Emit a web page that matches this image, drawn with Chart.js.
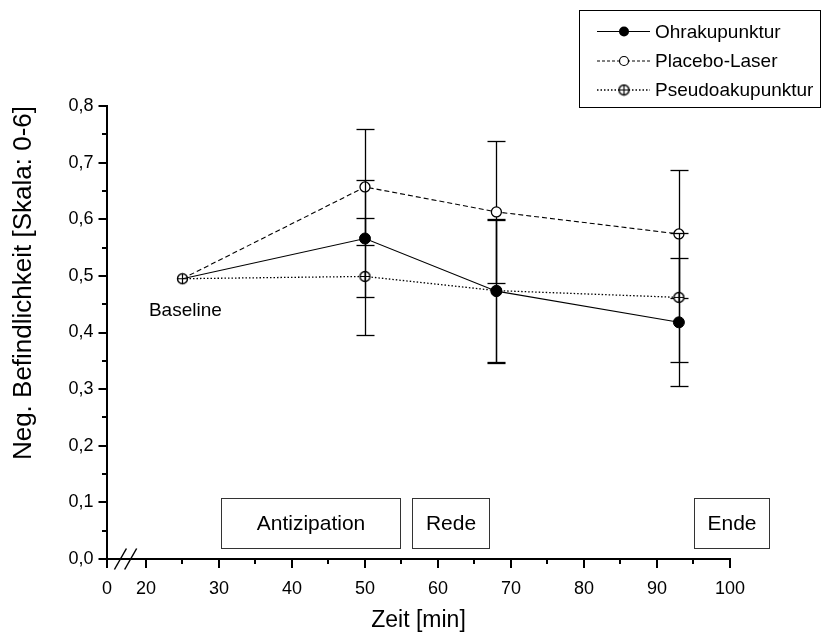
<!DOCTYPE html>
<html><head><meta charset="utf-8">
<script src="https://cdn.jsdelivr.net/npm/chart.js@4.4.1/dist/chart.umd.min.js"></script>
<style>html,body{margin:0;padding:0;background:#fff}canvas{display:block}</style>
</head><body>
<canvas id="c" width="823" height="640"></canvas>
<script>
// ---- data ----
const timePoints = [25, 50, 68, 93];
const seriesNames = ['Ohrakupunktur', 'Placebo-Laser', 'Pseudoakupunktur'];
const ohraMean = [0.495, 0.566, 0.473, 0.418];
const ohraErr = [0, 0.103, 0.126, 0.113];
const placeboMean = [0.495, 0.657, 0.613, 0.574];
const placeboErr = [0, 0.103, 0.126, 0.113];
const pseudoMean = [0.495, 0.499, 0.474, 0.462];
const pseudoErr = [0, 0.103, 0.126, 0.114];
const yTickValues = [0, 0.1, 0.2, 0.3, 0.4, 0.5, 0.6, 0.7, 0.8];
const yTickLabels = ['0,0', '0,1', '0,2', '0,3', '0,4', '0,5', '0,6', '0,7', '0,8'];
const yMinorTicks = [0.05, 0.15, 0.25, 0.35, 0.45, 0.55, 0.65, 0.75];
const xBreakZero = 14.66; // axis position that carries the "0" label (broken axis)
const xTickValues = [xBreakZero, 20, 30, 40, 50, 60, 70, 80, 90, 100];
const xTickLabels = ['0', '20', '30', '40', '50', '60', '70', '80', '90', '100'];
const xMinorTicks = [25, 35, 45, 55, 65, 75, 85, 95];
const phaseLabels = ['Antizipation', 'Rede', 'Ende'];
const phaseStart = [30.3, 56.5, 95.1];
const phaseEnd = [54.8, 67.0, 105.4];
const baselineLabel = 'Baseline';
const xTitle = 'Zeit [min]';
const yTitle = 'Neg. Befindlichkeit [Skala: 0-6]';

const FONT = '"Liberation Sans", Arial, Helvetica, sans-serif';
Chart.defaults.font.family = FONT;
Chart.defaults.color = '#000';

function makeCrossCircle(r) {
  const s = 2 * r + 3;
  const c = document.createElement('canvas');
  c.width = s; c.height = s;
  const g = c.getContext('2d');
  const m = s / 2;
  g.fillStyle = '#fff'; g.strokeStyle = '#000'; g.lineWidth = 1.4;
  g.beginPath(); g.arc(m, m, r, 0, Math.PI * 2); g.fill(); g.stroke();
  g.lineWidth = 1.2;
  g.beginPath(); g.moveTo(m - r, m); g.lineTo(m + r, m); g.moveTo(m, m - r); g.lineTo(m, m + r); g.stroke();
  return c;
}
const crossCircle = makeCrossCircle(5);

const means = [ohraMean, placeboMean, pseudoMean];
const errs = [ohraErr, placeboErr, pseudoErr];
const toPts = arr => timePoints.map((x, i) => ({x: x, y: arr[i]}));
const hideFirst = r => (ctx => ctx.dataIndex === 0 ? 0 : r);

const datasets = [
  {label: seriesNames[0], data: toPts(ohraMean), order: 0, borderColor: '#000', borderWidth: 1.1,
   pointStyle: 'circle', pointRadius: hideFirst(5.5), pointBackgroundColor: '#000', pointBorderColor: '#000',
   pointBorderWidth: 1, tension: 0, fill: false},
  {label: seriesNames[1], data: toPts(placeboMean), order: 2, borderColor: '#000', borderWidth: 1.1, borderDash: [5, 3],
   pointStyle: 'circle', pointRadius: hideFirst(5), pointBackgroundColor: '#fff', pointBorderColor: '#000',
   pointBorderWidth: 1.3, tension: 0, fill: false},
  {label: seriesNames[2], data: toPts(pseudoMean), order: 1, borderColor: '#000', borderWidth: 1.3, borderDash: [1.5, 2],
   pointStyle: crossCircle, pointRadius: 5, tension: 0, fill: false}
];

function line(ctx, x1, y1, x2, y2) { ctx.beginPath(); ctx.moveTo(x1, y1); ctx.lineTo(x2, y2); ctx.stroke(); }

const decor = {
  id: 'decor',
  beforeDatasetDraw(chart, args) {
    const i = args.index, xs = chart.scales.x, ys = chart.scales.y, ctx = chart.ctx;
    ctx.save();
    ctx.strokeStyle = '#000'; ctx.lineWidth = 1.3; ctx.setLineDash([]);
    means[i].forEach((m, k) => {
      const e = errs[i][k];
      if (!e) return;
      const px = Math.round(xs.getPixelForValue(timePoints[k])) + 0.5;
      const yt = Math.round(ys.getPixelForValue(m + e)) + 0.5;
      const yb = Math.round(ys.getPixelForValue(m - e)) + 0.5;
      line(ctx, px, yt, px, yb);
      line(ctx, px - 9, yt, px + 9, yt);
      line(ctx, px - 9, yb, px + 9, yb);
    });
    ctx.restore();
  },
  afterDraw(chart) {
    const ctx = chart.ctx, xs = chart.scales.x, ys = chart.scales.y;
    const {left: L, right: R, top: T, bottom: B} = chart.chartArea;
    ctx.save();
    ctx.strokeStyle = '#000'; ctx.setLineDash([]);
    // axes
    ctx.lineWidth = 2;
    line(ctx, L, T - 1, L, B + 1);
    line(ctx, L - 1, B, R + 1, B);
    // y ticks
    yTickValues.forEach(v => { const y = Math.round(ys.getPixelForValue(v)); line(ctx, L - 8.5, y, L, y); });
    yMinorTicks.forEach(v => { const y = Math.round(ys.getPixelForValue(v)); line(ctx, L - 5, y, L, y); });
    // x ticks
    xTickValues.forEach(v => { const x = Math.round(xs.getPixelForValue(v)); line(ctx, x, B, x, B + 9); });
    xMinorTicks.forEach(v => { const x = Math.round(xs.getPixelForValue(v)); line(ctx, x, B, x, B + 5); });
    // axis break marks
    ctx.lineWidth = 1.5;
    [16.5, 17.9].forEach(v => { const x = xs.getPixelForValue(v); line(ctx, x - 6, B + 10.5, x + 6, B - 10.5); });
    // phase boxes
    ctx.lineWidth = 1; ctx.strokeStyle = '#333';
    ctx.font = '21px ' + FONT; ctx.fillStyle = '#000';
    ctx.textAlign = 'center'; ctx.textBaseline = 'middle';
    const yTop = Math.round(ys.getPixelForValue(0.108)) + 0.5;
    const yBot = Math.round(ys.getPixelForValue(0.019)) + 0.5;
    phaseLabels.forEach((lab, i) => {
      const x1 = Math.round(xs.getPixelForValue(phaseStart[i])) + 0.5;
      const x2 = Math.round(xs.getPixelForValue(phaseEnd[i])) + 0.5;
      ctx.strokeRect(x1, yTop, x2 - x1, yBot - yTop);
      ctx.fillText(lab, (x1 + x2) / 2, (yTop + yBot) / 2 + 1);
    });
    // Baseline label
    ctx.font = '19px ' + FONT; ctx.textAlign = 'left';
    ctx.fillText(baselineLabel, xs.getPixelForValue(20.4), ys.getPixelForValue(0.438));
    // legend
    ctx.strokeStyle = '#000'; ctx.lineWidth = 1;
    ctx.strokeRect(579.5, 10.5, 241, 97);
    const rows = [31.5, 61, 90];
    const dashes = [[], [3, 2], [1.5, 2]];
    rows.forEach((ry, i) => {
      ctx.setLineDash(dashes[i]); ctx.lineWidth = i === 2 ? 1.3 : 1;
      line(ctx, 597, ry, 650, ry);
      ctx.setLineDash([]);
      if (i === 0) { ctx.fillStyle = '#000'; ctx.beginPath(); ctx.arc(624, ry, 5, 0, Math.PI * 2); ctx.fill(); }
      else if (i === 1) { ctx.fillStyle = '#fff'; ctx.lineWidth = 1.2; ctx.beginPath(); ctx.arc(624, ry, 4.5, 0, Math.PI * 2); ctx.fill(); ctx.stroke(); }
      else { ctx.drawImage(crossCircle, 624 - crossCircle.width / 2, ry - crossCircle.height / 2); }
      ctx.fillStyle = '#000'; ctx.font = '19px ' + FONT; ctx.textAlign = 'left'; ctx.textBaseline = 'middle';
      ctx.fillText(seriesNames[i], 655, ry + 1);
    });
    ctx.restore();
  }
};

new Chart(document.getElementById('c'), {
  type: 'line',
  data: {datasets: datasets},
  options: {
    responsive: false, animation: false,
    layout: {padding: {left: 0, top: 106, right: 93, bottom: 0}},
    plugins: {legend: {display: false}, tooltip: {enabled: false}},
    scales: {
      x: {
        type: 'linear', min: xBreakZero, max: 100,
        afterBuildTicks: s => { s.ticks = xTickValues.map(v => ({value: v})); },
        afterFit: s => { s.height = 81; },
        grid: {display: false, drawTicks: true, tickLength: 9},
        border: {display: false},
        ticks: {autoSkip: false, maxRotation: 0, padding: 10, font: {size: 18}, color: '#000',
                callback: (v, i) => xTickLabels[i]},
        title: {display: true, text: xTitle, font: {size: 23}, color: '#000', padding: {top: 0, bottom: 6}}
      },
      y: {
        type: 'linear', min: 0, max: 0.8,
        afterBuildTicks: s => { s.ticks = yTickValues.map(v => ({value: v})); },
        afterFit: s => { s.width = 107; },
        grid: {display: false, drawTicks: true, tickLength: 8.5},
        border: {display: false},
        ticks: {autoSkip: false, padding: 5, font: {size: 18}, color: '#000',
                callback: (v, i) => yTickLabels[i]},
        title: {display: true, text: yTitle, align: 'end', font: {size: 26}, color: '#000', padding: {top: 8, bottom: 0}}
      }
    }
  },
  plugins: [decor]
});
</script>
</body></html>
